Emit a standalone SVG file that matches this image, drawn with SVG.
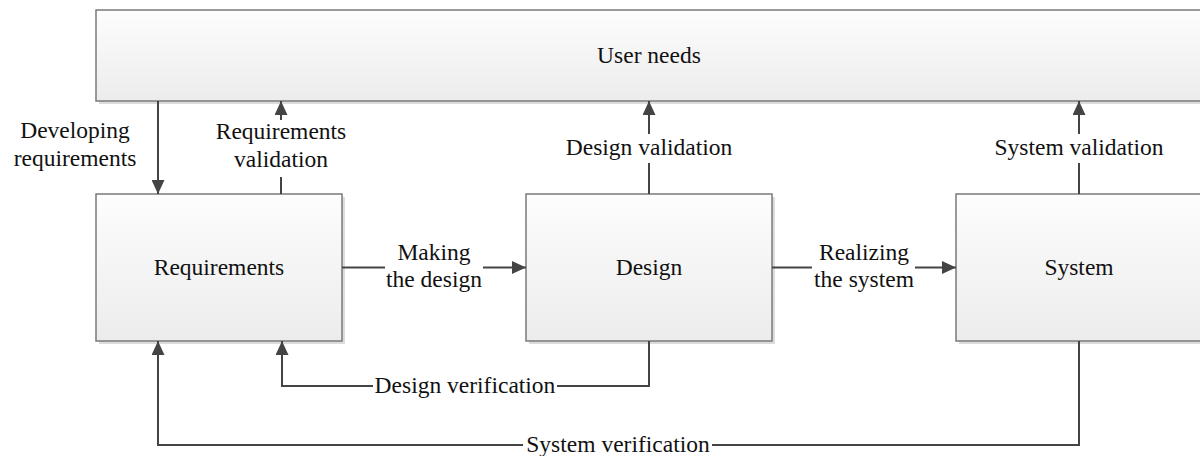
<svg xmlns="http://www.w3.org/2000/svg" width="1200" height="456" viewBox="0 0 1200 456">
  <defs>
    <linearGradient id="boxFill" x1="0" y1="0" x2="0" y2="1">
      <stop offset="0" stop-color="#fdfdfd"/>
      <stop offset="1" stop-color="#ececec"/>
    </linearGradient>
    <marker id="arrow" markerUnits="userSpaceOnUse" markerWidth="14" markerHeight="13" refX="14" refY="6.5" orient="auto">
      <path d="M0,0 L14,6.5 L0,13 Z" fill="#444"/>
    </marker>
    <style>
      .box { fill: url(#boxFill); stroke: #7a7a7a; stroke-width: 1.5; }
      .shadow { fill: #dcdcdc; }
      .conn { fill: none; stroke: #444; stroke-width: 2; }
      .lbl { font-family: "Liberation Serif", "Times New Roman", serif; font-size: 23.5px; fill: #111; text-anchor: middle; }
    </style>
  </defs>

  <rect width="1200" height="456" fill="#ffffff"/>

  <!-- process blocks -->
  <g id="user-needs">
    <rect class="shadow" x="99" y="13" width="1106" height="91"/>
    <rect class="box" x="96" y="10" width="1106" height="91"/>
    <text class="lbl" x="649" y="63">User needs</text>
  </g>
  <g id="requirements">
    <rect class="shadow" x="99" y="197" width="246" height="147"/>
    <rect class="box" x="96" y="194" width="246" height="147"/>
    <text class="lbl" x="219" y="275">Requirements</text>
  </g>
  <g id="design">
    <rect class="shadow" x="529" y="197" width="246" height="147"/>
    <rect class="box" x="526" y="194" width="246" height="147"/>
    <text class="lbl" x="649" y="275">Design</text>
  </g>
  <g id="system">
    <rect class="shadow" x="959" y="197" width="246" height="147"/>
    <rect class="box" x="956" y="194" width="246" height="147"/>
    <text class="lbl" x="1079" y="275">System</text>
  </g>

  <!-- flows between blocks -->
  <g id="connectors">
    <!-- Developing requirements -->
    <line class="conn" x1="158" y1="101" x2="158" y2="194" marker-end="url(#arrow)"/>
    <text class="lbl" x="75" y="138">Developing</text>
    <text class="lbl" x="75" y="166">requirements</text>

    <!-- Requirements validation -->
    <line class="conn" x1="281" y1="194" x2="281" y2="177"/>
    <line class="conn" x1="281" y1="120" x2="281" y2="101" marker-end="url(#arrow)"/>
    <text class="lbl" x="281" y="139">Requirements</text>
    <text class="lbl" x="281" y="167">validation</text>

    <!-- Design validation -->
    <line class="conn" x1="649" y1="194" x2="649" y2="163"/>
    <line class="conn" x1="649" y1="134" x2="649" y2="101" marker-end="url(#arrow)"/>
    <text class="lbl" x="649" y="155">Design validation</text>

    <!-- System validation -->
    <line class="conn" x1="1079" y1="194" x2="1079" y2="163"/>
    <line class="conn" x1="1079" y1="134" x2="1079" y2="101" marker-end="url(#arrow)"/>
    <text class="lbl" x="1079" y="155">System validation</text>

    <!-- Making the design -->
    <line class="conn" x1="342" y1="267.5" x2="385" y2="267.5"/>
    <line class="conn" x1="483" y1="267.5" x2="526" y2="267.5" marker-end="url(#arrow)"/>
    <text class="lbl" x="434" y="260">Making</text>
    <text class="lbl" x="434" y="287">the design</text>

    <!-- Realizing the system -->
    <line class="conn" x1="772" y1="267.5" x2="812" y2="267.5"/>
    <line class="conn" x1="915" y1="267.5" x2="956" y2="267.5" marker-end="url(#arrow)"/>
    <text class="lbl" x="864" y="260">Realizing</text>
    <text class="lbl" x="864" y="287">the system</text>

    <!-- Design verification -->
    <polyline class="conn" points="649,341 649,386 557,386"/>
    <polyline class="conn" points="373,386 282,386 282,341" marker-end="url(#arrow)"/>
    <text class="lbl" x="465" y="393">Design verification</text>

    <!-- System verification -->
    <polyline class="conn" points="1079,341 1079,445 712,445"/>
    <polyline class="conn" points="523,445 158,445 158,341" marker-end="url(#arrow)"/>
    <text class="lbl" x="618" y="452">System verification</text>
  </g>
</svg>
